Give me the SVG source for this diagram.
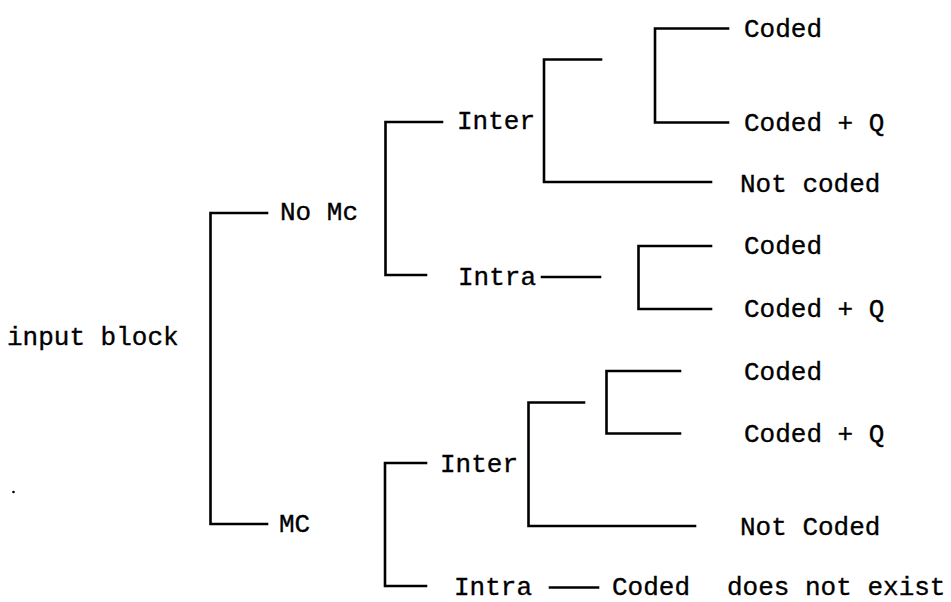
<svg xmlns="http://www.w3.org/2000/svg" width="951" height="602" viewBox="0 0 951 602">
<style>
text{font-family:"Liberation Mono","Courier New",monospace;font-size:26px;fill:#000;stroke:#000;stroke-width:0.35px}
.c path{fill:none;stroke:#000;stroke-width:2.6;stroke-linecap:square}
</style>
<rect width="951" height="602" fill="#fff"/>
<g class="c" id="connectors">
<path d="M267,213 H210.5 V524 H267"/>
<path d="M442,122 H385.5 V275 H426"/>
<path d="M542,277 H600"/>
<path d="M601,59.5 H544 V182 H711"/>
<path d="M728,28.5 H655 V122.5 H728"/>
<path d="M711,246 H638.5 V309 H711"/>
<path d="M426,463 H385 V586 H426"/>
<path d="M584,402.5 H528.5 V526 H695"/>
<path d="M680,371 H606.5 V433.5 H680"/>
<path d="M550,587.5 H598"/>
</g>
<g id="n-input"><text x="7" y="345">input block</text></g>
<g id="n-nomc"><text x="280" y="220">No Mc</text></g>
<g id="n-mc"><text x="279" y="532">MC</text></g>
<g id="n-inter1"><text x="457" y="129">Inter</text></g>
<g id="n-intra1"><text x="458" y="285">Intra</text></g>
<g id="n-coded1"><text x="744" y="37">Coded</text></g>
<g id="n-codedq1"><text x="744" y="131">Coded + Q</text></g>
<g id="n-notcoded1"><text x="740" y="192">Not coded</text></g>
<g id="n-coded2"><text x="744" y="254">Coded</text></g>
<g id="n-codedq2"><text x="744" y="317">Coded + Q</text></g>
<g id="n-coded3"><text x="744" y="380">Coded</text></g>
<g id="n-codedq3"><text x="744" y="442">Coded + Q</text></g>
<g id="n-inter2"><text x="440" y="472">Inter</text></g>
<g id="n-notcoded2"><text x="740" y="535">Not Coded</text></g>
<g id="n-intra2"><text x="454" y="595">Intra</text></g>
<g id="n-coded4"><text x="612" y="595">Coded</text></g>
<g id="n-dne"><text x="727" y="595">does not exist</text></g>
<circle cx="13.5" cy="492" r="1.3" fill="#000"/>
</svg>
